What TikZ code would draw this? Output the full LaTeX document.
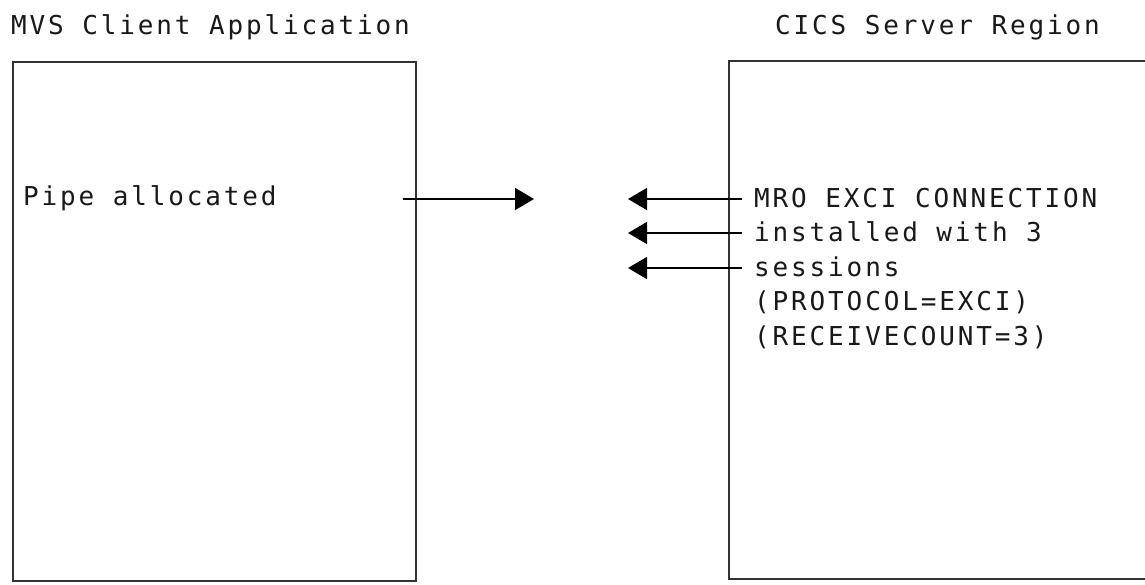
\documentclass[tikz,border=0pt]{standalone}
\usepackage{fontspec}
\newfontfamily\monofont[LetterSpace=11]{DejaVu Sans Mono}
\usetikzlibrary{arrows.meta}
\begin{document}
\begin{tikzpicture}[x=1pt,y=-1pt,
  lbl/.style={anchor=base west,inner sep=0pt,font=\monofont\fontsize{26}{34.5}\selectfont,text=black!90},
  frame/.style={draw=black!80,line width=2pt},
  conn/.style={draw=black,line width=1.6pt,-{Triangle[length=19pt,width=22pt]}}]
\useasboundingbox[fill=white] (0,0) rectangle (1145,584);
% titles
\node[lbl] (tl) at (11,34) {MVS Client Application};
\node[lbl] (tr) at (775,34) {CICS Server Region};
% left box
\node[frame,rectangle,minimum width=403pt,minimum height=519pt,anchor=north west,inner sep=0pt] (client) at (12,60.5) {};
% right box (open at right)
\coordinate (rtr) at (1150,60.5);
\coordinate (rtl) at (729,60.5);
\coordinate (rbl) at (729,579);
\coordinate (rbr) at (1150,579);
\draw[frame] (rtr) -- (rtl) -- (rbl) -- (rbr);
% texts
\node[lbl] (pipe) at (23,205) {Pipe allocated};
\node[lbl] (l1) at (754,207) {MRO EXCI CONNECTION};
\node[lbl] (l2) at (754,241.5) {installed with 3};
\node[lbl] (l3) at (754,276) {sessions};
\node[lbl] (l4) at (754,310.5) {(PROTOCOL=EXCI)};
\node[lbl] (l5) at (754,345) {(RECEIVECOUNT=3)};
% arrows
\coordinate (a0s) at (403,199);
\coordinate (a0e) at (534,199);
\draw[conn] (a0s) -- (a0e);
\coordinate (a1s) at (742,199);
\coordinate (a1e) at (628,199);
\coordinate (a2s) at (742,233);
\coordinate (a2e) at (628,233);
\coordinate (a3s) at (742,268);
\coordinate (a3e) at (628,268);
\draw[conn] (a1s) -- (a1e);
\draw[conn] (a2s) -- (a2e);
\draw[conn] (a3s) -- (a3e);
\end{tikzpicture}
\end{document}
